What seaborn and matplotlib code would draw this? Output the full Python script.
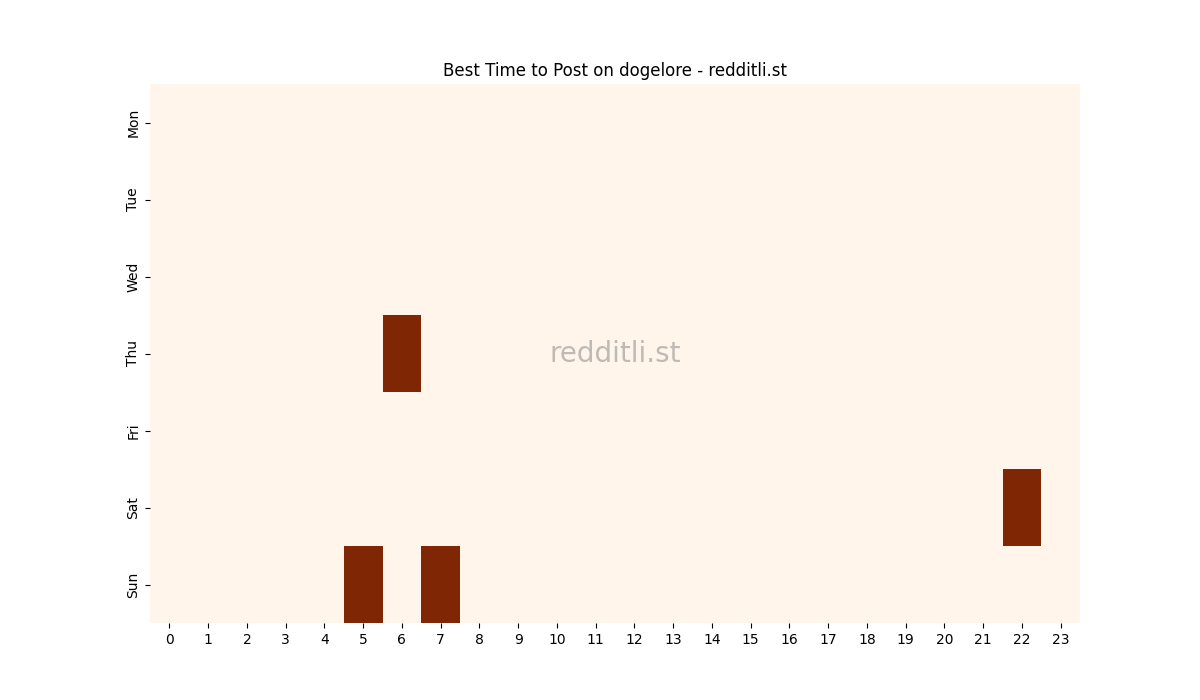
import numpy as np
import pandas as pd
import matplotlib
matplotlib.use("Agg")
import matplotlib.pyplot as plt
import seaborn as sns

days = ["Mon", "Tue", "Wed", "Thu", "Fri", "Sat", "Sun"]
hours = list(range(24))

# posts per (day, hour) - only four non-empty slots
hot_days = ["Thu", "Sat", "Sun", "Sun"]
hot_hours = [6, 22, 5, 7]
hot_values = [1, 1, 1, 1]

grid = pd.DataFrame(0, index=days, columns=hours)
for d, h, v in zip(hot_days, hot_hours, hot_values):
    grid.loc[d, h] = v

fig, ax = plt.subplots(figsize=(12, 7), dpi=100)
sns.heatmap(grid, cmap="Oranges", cbar=False, ax=ax)
ax.set_title("Best Time to Post on dogelore - redditli.st")
ax.set_xlabel("")
ax.set_ylabel("")
ax.tick_params(axis="x", rotation=0)
ax.tick_params(axis="y", rotation=90)
ax.text(0.5, 0.5, "redditli.st", transform=ax.transAxes, ha="center", va="center",
        fontsize=20, color="gray", alpha=0.5)

plt.savefig("out.png", dpi=100)
